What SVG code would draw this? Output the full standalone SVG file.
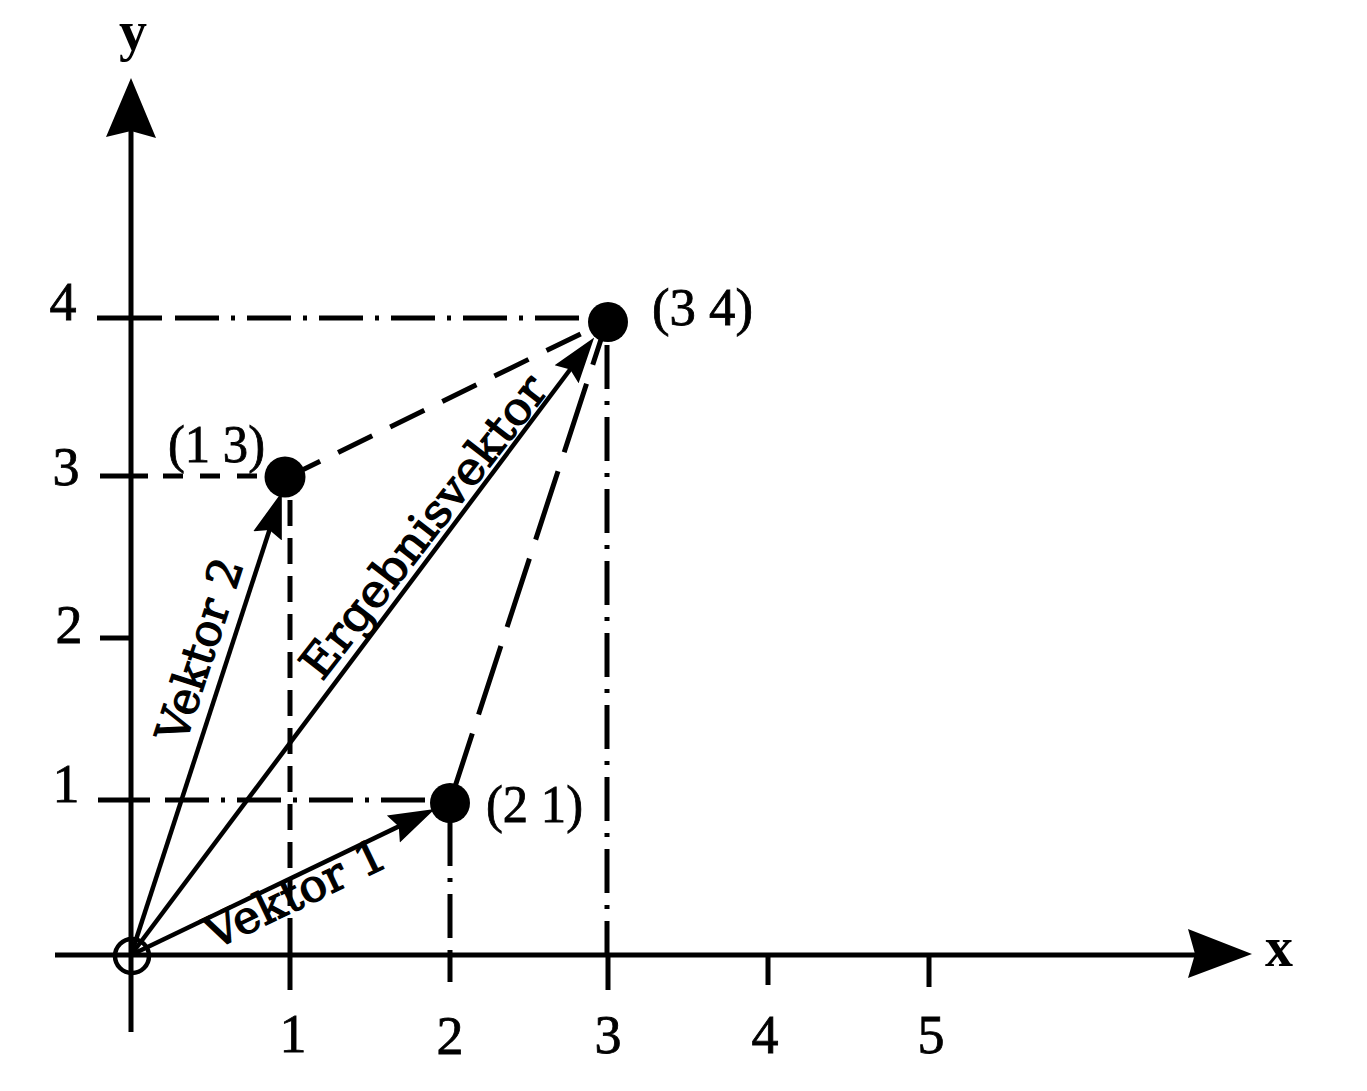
<svg xmlns="http://www.w3.org/2000/svg" width="1367" height="1091" viewBox="0 0 1367 1091">
<style>
.ax{stroke:#000;stroke-width:5;fill:none}
.vec{stroke:#000;stroke-width:4.5;fill:none;marker-end:url(#ah)}
.dd{stroke:#000;stroke-width:5;fill:none;stroke-dasharray:44 12 4 12}
.ds{stroke:#000;stroke-width:5;fill:none}
.num{font-family:"Liberation Serif",serif;font-size:54px;fill:#000;stroke:#000;stroke-width:0.8;text-anchor:middle}
.lab{font-family:"Liberation Serif",serif;font-size:52px;fill:#000;stroke:#000;stroke-width:0.8}
.axl{font-family:"Liberation Serif",serif;font-size:56px;font-weight:bold;fill:#000;text-anchor:middle}
.vl{font-family:"DejaVu Serif",serif;font-size:45px;fill:#000;stroke:#000;stroke-width:1.3}
.pt{fill:#000}
</style>
<defs>
<marker id="ah" markerUnits="userSpaceOnUse" viewBox="0 -17 46 34" refX="24" refY="0" markerWidth="46" markerHeight="34" orient="auto">
<path d="M0,-15 L46,0 L0,15 L6,0 z" fill="#000"/>
</marker>
</defs>
<rect width="1367" height="1091" fill="#fff"/>
<g id="axes">
<line class="ax" x1="131" y1="1032" x2="131" y2="130"/>
<path d="M131,78 L156,138 L131,131 L106,137 z" fill="#000"/>
<line class="ax" x1="55" y1="955" x2="1195" y2="955"/>
<path d="M1252,954 L1188,929 L1195,954 L1188,978 z" fill="#000"/>
<line class="ax" x1="290" y1="937" x2="290" y2="990"/>
<line class="ax" x1="450" y1="955" x2="450" y2="982"/>
<line class="ax" x1="608" y1="955" x2="608" y2="990"/>
<line class="ax" x1="768" y1="955" x2="768" y2="985"/>
<line class="ax" x1="929" y1="955" x2="929" y2="987"/>
<line class="ax" x1="97" y1="318" x2="162" y2="318"/>
<line class="ax" x1="100" y1="476" x2="148" y2="476"/>
<line class="ax" x1="100" y1="638" x2="131" y2="638"/>
<line class="ax" x1="98" y1="800" x2="150" y2="800"/>
</g>
<g id="connectors">
<line class="dd" x1="175" y1="318" x2="590" y2="318"/>
<line class="dd" x1="607" y1="345" x2="607" y2="955"/>
<line class="dd" x1="165" y1="800" x2="432" y2="800"/>
<line class="dd" x1="450" y1="822" x2="450" y2="955"/>
<line class="ds" x1="163" y1="476" x2="286" y2="476" stroke-dasharray="20 17"/>
<line class="ds" x1="290" y1="500" x2="290" y2="937" stroke-dasharray="26 12"/>
<line class="ds" x1="286" y1="478" x2="607" y2="321" stroke-dasharray="38 20"/>
<line class="ds" x1="450" y1="802" x2="607" y2="321" stroke-dasharray="72 20"/>
<line class="vec" x1="131" y1="955" x2="415" y2="818.6"/>
<line class="vec" x1="131" y1="955" x2="275" y2="513"/>
<line class="vec" x1="131" y1="955" x2="581" y2="355"/>
</g>
<g id="origin"><circle cx="132" cy="956" r="17" fill="none" stroke="#000" stroke-width="4.5"/></g>
<g id="p34"><circle class="pt" cx="608" cy="322" r="20"/><text class="lab" x="652" y="325" textLength="101" lengthAdjust="spacingAndGlyphs">(3 4)</text></g>
<g id="p13"><circle class="pt" cx="285" cy="477" r="20.5"/><text class="lab" x="168" y="462" textLength="97" lengthAdjust="spacingAndGlyphs">(1 3)</text></g>
<g id="p21"><circle class="pt" cx="450" cy="803" r="20"/><text class="lab" x="486" y="822" textLength="97" lengthAdjust="spacingAndGlyphs">(2 1)</text></g>
<g id="labels">
<text class="axl" x="133" y="50" font-size="52">y</text>
<text class="axl" x="1279" y="966">x</text>
<text class="num" x="63" y="320">4</text>
<text class="num" x="66" y="485">3</text>
<text class="num" x="69" y="643">2</text>
<text class="num" x="66" y="802">1</text>
<text class="num" x="293" y="1052">1</text>
<text class="num" x="450" y="1054">2</text>
<text class="num" x="608" y="1053">3</text>
<text class="num" x="765" y="1053">4</text>
<text class="num" x="931" y="1053">5</text>
<text class="vl" transform="translate(214,950) rotate(-25.6)" textLength="195" lengthAdjust="spacingAndGlyphs">Vektor 1</text>
<text class="vl" transform="translate(185,745) rotate(-72)" textLength="190" lengthAdjust="spacingAndGlyphs">Vektor 2</text>
<text class="vl" transform="translate(322,682) rotate(-52)" textLength="370" lengthAdjust="spacingAndGlyphs">Ergebnisvektor</text>
</g>
</svg>
